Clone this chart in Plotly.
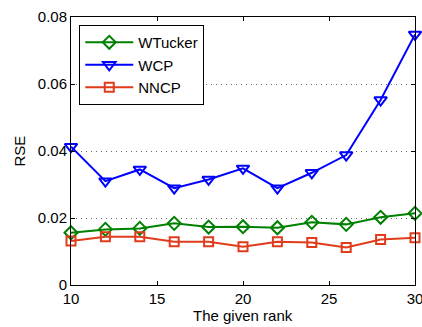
import plotly.graph_objects as go

ranks = [10, 12, 14, 16, 18, 20, 22, 24, 26, 28, 30]
wtucker = [0.0156, 0.0166, 0.0169, 0.0184, 0.0173, 0.0174, 0.0171, 0.0187, 0.0181, 0.0202, 0.0214]
wcp = [0.0413, 0.0310, 0.0345, 0.0289, 0.0315, 0.0348, 0.0289, 0.0335, 0.0388, 0.0552, 0.0748]
nncp = [0.0131, 0.0144, 0.0144, 0.0129, 0.0129, 0.0114, 0.0129, 0.0127, 0.0112, 0.0136, 0.0141]

x_ticks = [10, 15, 20, 25, 30]
y_ticks = [0, 0.02, 0.04, 0.06, 0.08]
y_ticklabels = ["0", "0.02", "0.04", "0.06", "0.08"]

series = [
    ("WTucker", wtucker, "#008000", "diamond-open", 10),
    ("WCP", wcp, "#0000ff", "triangle-down-open", 11),
    ("NNCP", nncp, "#e03c1c", "square-open", 9),
]

fig = go.Figure()
for name, vals, color, sym, size in series:
    fig.add_trace(go.Scatter(
        x=ranks, y=vals, name=name, mode="lines+markers",
        line=dict(color=color, width=2),
        marker=dict(symbol=sym, size=size, color=color, line=dict(width=2, color=color)),
        cliponaxis=False,
    ))

FAM = "Liberation Sans, Arial, sans-serif"
font = dict(family=FAM, size=15, color="black")
fig.update_layout(
    width=422, height=327,
    margin=dict(l=71, r=7, t=17, b=42, autoexpand=False),
    paper_bgcolor="white", plot_bgcolor="white",
    font=font,
    showlegend=True,
    legend=dict(
        x=0.024, y=0.97, xanchor="left", yanchor="top",
        bgcolor="white", bordercolor="black", borderwidth=1,
        font=dict(family=FAM, size=15, color="black"),
        tracegroupgap=0, itemwidth=48,
    ),
    xaxis=dict(
        range=[10, 30], tickvals=x_ticks, ticktext=[str(v) for v in x_ticks],
        ticks="inside", ticklen=4, tickcolor="black", showline=True, linecolor="black",
        linewidth=1, mirror="ticks", showgrid=False, zeroline=False, automargin=False,
        tickfont=font, ticklabeloverflow="allow",
    ),
    yaxis=dict(
        range=[0, 0.08], tickvals=y_ticks, ticktext=y_ticklabels,
        ticks="inside", ticklen=4, tickcolor="black", showline=True, linecolor="black",
        linewidth=1, mirror="ticks", showgrid=True, gridcolor="#666666", griddash="1px,4px",
        gridwidth=1, zeroline=False, automargin=False, tickfont=font,
        ticklabeloverflow="allow",
    ),
    annotations=[
        dict(text="The given rank", x=0.5, y=-0.0, xref="paper", yref="paper",
             xanchor="center", yanchor="top", yshift=-20, showarrow=False, font=font),
        dict(text="RSE", x=0, y=0.5, xref="paper", yref="paper", textangle=-90,
             xanchor="right", yanchor="middle", xshift=-42, showarrow=False, font=font),
    ],
)

fig.write_html(
    "out.html",
    config={"displayModeBar": False},
    post_script="document.body.style.margin='0';document.body.style.overflow='hidden';",
)
